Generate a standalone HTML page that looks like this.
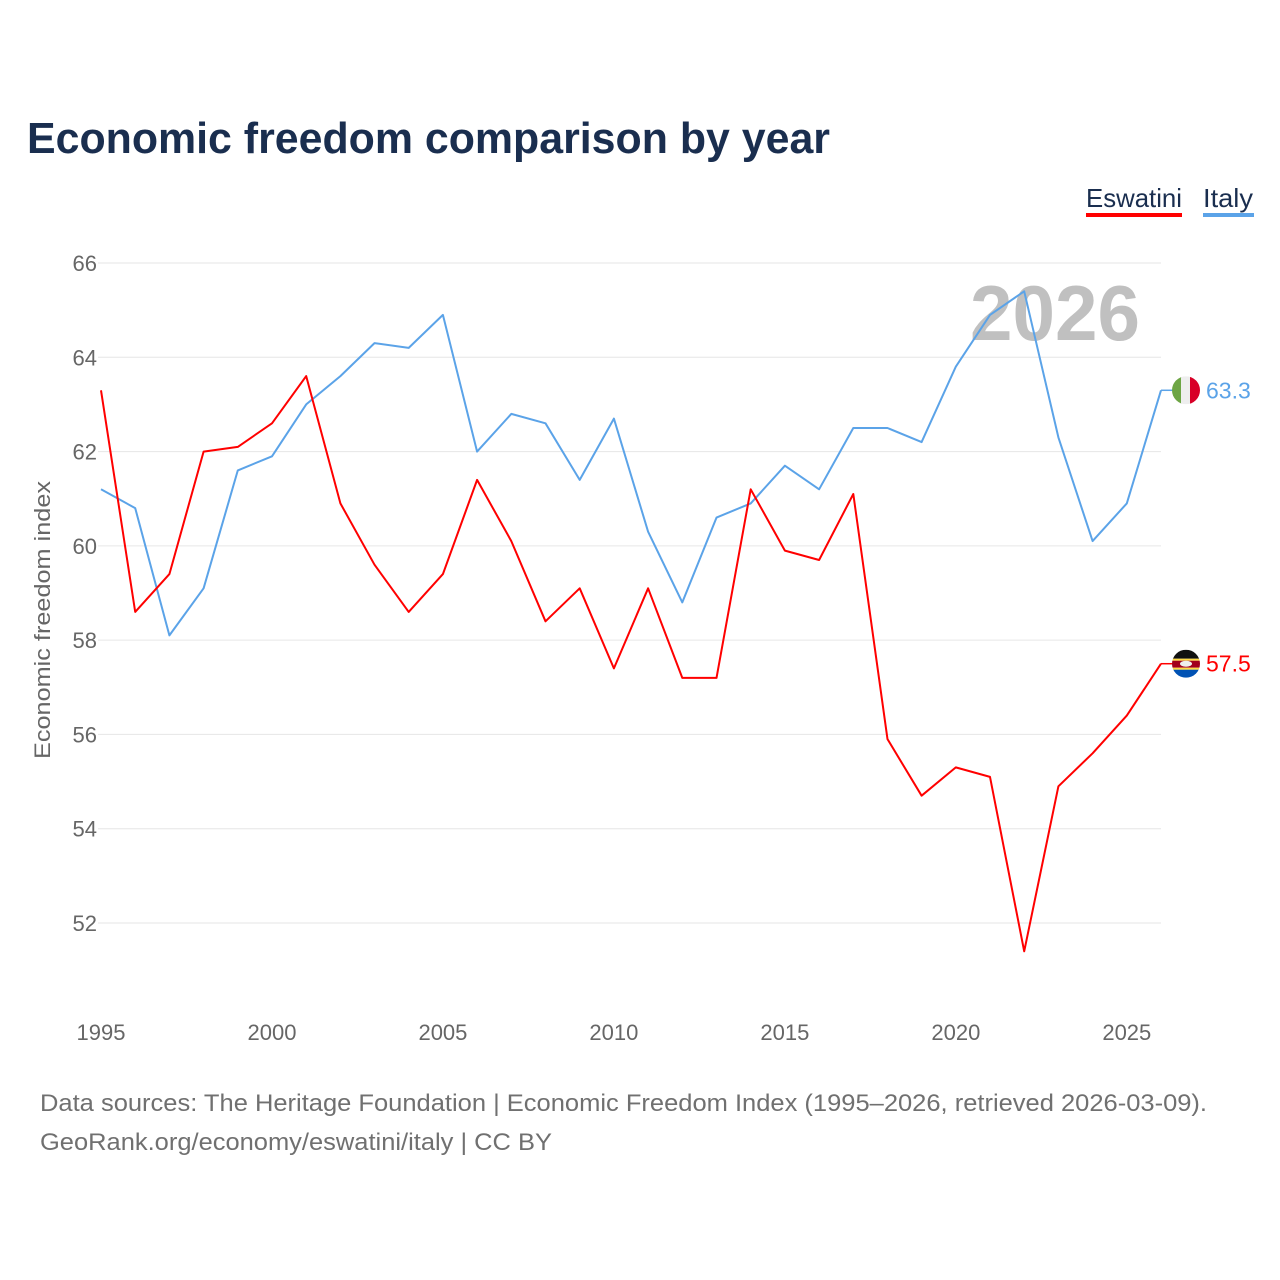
<!DOCTYPE html>
<html><head><meta charset="utf-8"><style>
html,body{margin:0;padding:0;background:#fff;width:1280px;height:1280px;overflow:hidden}
svg{display:block;font-family:"Liberation Sans",sans-serif}
</style></head><body>
<svg id="chart" width="1280" height="1280" viewBox="0 0 1280 1280">
<text x="27" y="153" font-size="44" font-weight="bold" fill="#1a2e4f" textLength="803" lengthAdjust="spacingAndGlyphs">Economic freedom comparison by year</text>
<g>
<g><text x="1086" y="207" font-size="26" fill="#1a2e4f" textLength="96" lengthAdjust="spacingAndGlyphs">Eswatini</text><rect x="1086" y="213" width="96" height="4" fill="#ff0000"/></g>
<g><text x="1203" y="207" font-size="26" fill="#1a2e4f" textLength="50" lengthAdjust="spacingAndGlyphs">Italy</text><rect x="1203" y="213" width="51" height="4" fill="#5ba3e8"/></g>
</g>
<g id="grid"></g>
<g id="yticks"></g>
<g id="xticks"></g>
<text x="1140" y="340" font-size="78" font-weight="bold" fill="#c0c0c0" text-anchor="end" textLength="170" lengthAdjust="spacingAndGlyphs">2026</text>
<text transform="translate(50,620) rotate(-90)" font-size="22" fill="#666" text-anchor="middle" textLength="278" lengthAdjust="spacingAndGlyphs">Economic freedom index</text>
<g id="series"></g>
<text x="40" y="1111" font-size="24" fill="#707070" textLength="1167" lengthAdjust="spacingAndGlyphs">Data sources: The Heritage Foundation | Economic Freedom Index (1995–2026, retrieved 2026-03-09).</text>
<text x="40" y="1150" font-size="24" fill="#707070" textLength="512" lengthAdjust="spacingAndGlyphs">GeoRank.org/economy/eswatini/italy | CC BY</text>
</svg>
<script>
const years = [1995,1996,1997,1998,1999,2000,2001,2002,2003,2004,2005,2006,2007,2008,2009,2010,2011,2012,2013,2014,2015,2016,2017,2018,2019,2020,2021,2022,2023,2024,2025,2026];
const eswatini = [63.3,58.6,59.4,62.0,62.1,62.6,63.6,60.9,59.6,58.6,59.4,61.4,60.1,58.4,59.1,57.4,59.1,57.2,57.2,61.2,59.9,59.7,61.1,55.9,54.7,55.3,55.1,51.4,54.9,55.6,56.4,57.5];
const italy = [61.2,60.8,58.1,59.1,61.6,61.9,63.0,63.6,64.3,64.2,64.9,62.0,62.8,62.6,61.4,62.7,60.3,58.8,60.6,60.9,61.7,61.2,62.5,62.5,62.2,63.8,64.9,65.4,62.3,60.1,60.9,63.3];
const yTicks = [52,54,56,58,60,62,64,66];
const xTicks = [1995,2000,2005,2010,2015,2020,2025];

const NS="http://www.w3.org/2000/svg";
const X0=101, X1=1161, Y66=263, Y52=923;
const xS = y => X0 + (y-1995)*(X1-X0)/(2026-1995);
const yS = v => Y52 - (v-52)*(Y52-Y66)/14;
function mk(tag, attrs, parent){const e=document.createElementNS(NS,tag);for(const k in attrs)e.setAttribute(k,attrs[k]);parent.appendChild(e);return e;}
const grid=document.getElementById('grid'), yt=document.getElementById('yticks'), xt=document.getElementById('xticks'), ser=document.getElementById('series');
yTicks.forEach(v=>{
  const l=mk('line',{x1:98,x2:1161,y1:yS(v),y2:yS(v),stroke:'#e6e6e6','stroke-width':1},grid);
  
  
  const t=mk('text',{x:97,y:yS(v)+8,'font-size':22,fill:'#666','text-anchor':'end'},yt);
  t.textContent=v;
  
  
});
xTicks.forEach(v=>{
  const t=mk('text',{x:xS(v),y:1040,'font-size':22,fill:'#666','text-anchor':'middle'},xt);
  t.textContent=v;
  
  
});
function line(vals,color,name){
  const d=vals.map((v,i)=>(i?'L':'M')+xS(years[i]).toFixed(1)+','+yS(v).toFixed(1)).join(' ');
  const p=mk('path',{d:d,fill:'none',stroke:color,'stroke-width':2,'stroke-linejoin':'round'},ser);
  
  
  const last=vals[vals.length-1], ly=yS(last);
  const c=mk('line',{x1:X1,x2:1174,y1:ly,y2:ly,stroke:color,'stroke-width':1.5},ser);
  
  
  const t=mk('text',{x:1206,y:ly+8,'font-size':23,fill:color},ser);
  t.textContent=last.toFixed(1);
  
  
  return ly;
}
const iy=line(italy,'#5ba3e8','italy');
const ey=line(eswatini,'#ff0000','eswatini');
// Italy flag
const fi=mk('g',{},ser);


mk('clipPath',{id:'ci'},fi).appendChild(Object.assign(document.createElementNS(NS,'circle'),{}));
fi.querySelector('clipPath circle').setAttribute('cx',1186);fi.querySelector('clipPath circle').setAttribute('cy',iy);fi.querySelector('clipPath circle').setAttribute('r',14);
const gi=mk('g',{'clip-path':'url(#ci)'},fi);
mk('rect',{x:1172,y:iy-14,width:10,height:28,fill:'#6da544'},gi);
mk('rect',{x:1181,y:iy-14,width:10,height:28,fill:'#eeeeee'},gi);
mk('rect',{x:1190,y:iy-14,width:10,height:28,fill:'#d80027'},gi);
// Eswatini flag
const fe=mk('g',{},ser);


const cp=mk('clipPath',{id:'ce'},fe);mk('circle',{cx:1186,cy:ey,r:14},cp);
const ge=mk('g',{'clip-path':'url(#ce)'},fe);
mk('rect',{x:1172,y:ey-14,width:28,height:9,fill:'#111'},ge);
mk('rect',{x:1172,y:ey-5,width:28,height:2,fill:'#ffda44'},ge);
mk('rect',{x:1172,y:ey-3,width:28,height:7,fill:'#a2001d'},ge);
mk('rect',{x:1172,y:ey+4,width:28,height:2,fill:'#ffda44'},ge);
mk('rect',{x:1172,y:ey+6,width:28,height:8,fill:'#0052b4'},ge);
mk('ellipse',{cx:1186,cy:ey,rx:6,ry:3,fill:'#eee'},ge);
</script>
</body></html>
